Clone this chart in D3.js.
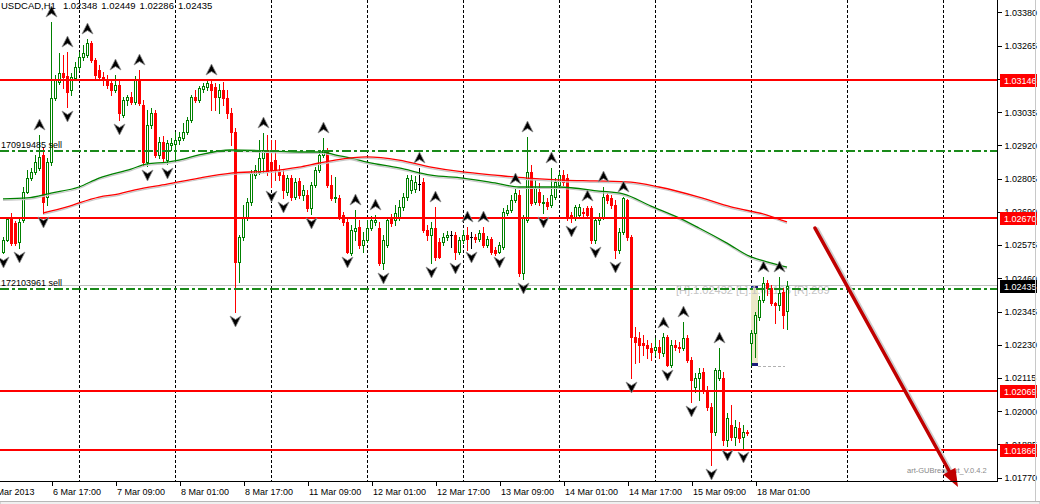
<!DOCTYPE html>
<html><head><meta charset="utf-8">
<script src="https://cdn.jsdelivr.net/npm/d3@7"></script>
<style>
html,body{margin:0;padding:0;background:#fff;}
svg{display:block;}
text{font-family:"Liberation Sans",Arial,sans-serif;}
</style></head><body>
<svg id="c" width="1040" height="504"></svg>
<script>
// ---------------- DATA ----------------
const symbol = "USDCAD,H1";
const headerValues = [1.02348, 1.02449, 1.02286, 1.02435];

const opens = [1.02551,1.02593,1.02665,1.02651,1.02586,1.02662,1.02759,1.02807,1.02828,1.02842,
1.02887,1.02741,1.02862,1.03084,1.03139,1.03170,1.03160,1.03112,1.03153,1.03191,
1.03226,1.03233,1.03274,1.03215,1.03181,1.03157,1.03150,1.03136,1.03112,1.03129,
1.03025,1.03077,1.03087,1.03070,1.03146,1.03060,1.02862,1.02991,1.03032,1.02887,
1.02932,1.02869,1.02921,1.02925,1.02939,1.02946,1.02966,1.03008,1.03087,1.03077,
1.03115,1.03122,1.03132,1.03122,1.03087,1.03112,1.03084,1.03032,1.02966,1.02517,
1.02603,1.02669,1.02724,1.02817,1.02828,1.02876,1.02904,1.02862,1.02869,1.02828,
1.02817,1.02759,1.02807,1.02741,1.02797,1.02748,1.02748,1.02703,1.02783,1.02835,
1.02887,1.02904,1.02783,1.02738,1.02738,1.02679,1.02655,1.02548,1.02624,1.02638,
1.02575,1.02593,1.02634,1.02655,1.02634,1.02513,1.02575,1.02672,1.02662,1.02672,
1.02707,1.02741,1.02766,1.02769,1.02786,1.02793,1.02627,1.02610,1.02634,1.02586,
1.02586,1.02603,1.02610,1.02610,1.02551,1.02593,1.02610,1.02603,1.02603,1.02596,
1.02617,1.02575,1.02596,1.02558,1.02551,1.02568,1.02686,1.02696,1.02731,1.02748,
1.02478,1.02662,1.02828,1.02724,1.02759,1.02721,1.02724,1.02714,1.02741,1.02783,
1.02817,1.02807,1.02679,1.02669,1.02679,1.02690,1.02703,1.02703,1.02593,1.02662,
1.02672,1.02748,1.02738,1.02714,1.02558,1.02620,1.02731,1.02603,1.02257,1.02254,
1.02236,1.02229,1.02219,1.02212,1.02222,1.02202,1.02257,1.02160,1.02229,1.02222,
1.02219,1.02254,1.02177,1.02084,1.02115,1.02136,1.02074,1.02015,1.01928,1.02115,
1.02115,1.01901,1.01953,1.01911,1.01942,1.01911,1.01928,1.02236,1.02271,1.02326,
1.02385,1.02444,1.02427,1.02375,1.02368,1.02413,1.02348];

const highs = [1.02603,1.02672,1.02686,1.02658,1.02669,1.02776,1.02835,1.02842,1.02887,1.02956,
1.02914,1.02876,1.03347,1.03164,1.03240,1.03233,1.03243,1.03170,1.03209,1.03243,
1.03267,1.03288,1.03281,1.03222,1.03198,1.03174,1.03164,1.03146,1.03164,1.03146,
1.03087,1.03094,1.03105,1.03160,1.03181,1.03077,1.03042,1.03049,1.03042,1.02949,
1.02952,1.02939,1.02946,1.02966,1.02966,1.02997,1.03018,1.03094,1.03112,1.03125,
1.03136,1.03146,1.03146,1.03136,1.03132,1.03139,1.03112,1.03049,1.02980,1.02610,
1.02714,1.02738,1.02835,1.02852,1.02939,1.02963,1.02956,1.02939,1.02939,1.02852,
1.02835,1.02817,1.02817,1.02807,1.02807,1.02783,1.02766,1.02793,1.02845,1.02904,
1.02946,1.02911,1.02817,1.02811,1.02748,1.02690,1.02669,1.02645,1.02696,1.02662,
1.02620,1.02662,1.02676,1.02679,1.02655,1.02610,1.02672,1.02683,1.02714,1.02731,
1.02755,1.02817,1.02817,1.02814,1.02842,1.02807,1.02645,1.02655,1.02707,1.02600,
1.02617,1.02624,1.02624,1.02620,1.02603,1.02627,1.02638,1.02620,1.02613,1.02627,
1.02638,1.02606,1.02603,1.02568,1.02586,1.02703,1.02714,1.02748,1.02769,1.02766,
1.02679,1.02949,1.02852,1.02800,1.02790,1.02748,1.02738,1.02842,1.02807,1.02828,
1.02835,1.02821,1.02690,1.02714,1.02717,1.02703,1.02710,1.02710,1.02672,1.02686,
1.02776,1.02755,1.02748,1.02731,1.02634,1.02741,1.02735,1.02610,1.02292,1.02274,
1.02264,1.02247,1.02236,1.02254,1.02247,1.02271,1.02264,1.02247,1.02247,1.02240,
1.02309,1.02264,1.02188,1.02132,1.02150,1.02150,1.02087,1.02029,1.02150,1.02219,
1.02136,1.01994,1.02022,1.01970,1.01963,1.01953,1.01935,1.02281,1.02344,1.02399,
1.02465,1.02454,1.02437,1.02378,1.02465,1.02427,1.02449];

const lows = [1.02548,1.02589,1.02575,1.02575,1.02565,1.02655,1.02755,1.02800,1.02821,1.02835,
1.02686,1.02714,1.02852,1.03077,1.03132,1.03119,1.03053,1.03094,1.03146,1.03181,
1.03215,1.03226,1.03209,1.03153,1.03146,1.03129,1.03119,1.03094,1.03105,1.03008,
1.03018,1.03060,1.03063,1.03063,1.03060,1.02852,1.02849,1.02980,1.02880,1.02876,
1.02866,1.02856,1.02904,1.02869,1.02925,1.02939,1.02959,1.03001,1.03070,1.03070,
1.03105,1.03112,1.03042,1.03042,1.03032,1.03060,1.03015,1.02921,1.02344,1.02447,
1.02593,1.02662,1.02714,1.02807,1.02821,1.02828,1.02817,1.02776,1.02800,1.02800,
1.02738,1.02748,1.02731,1.02735,1.02738,1.02731,1.02693,1.02683,1.02776,1.02828,
1.02880,1.02776,1.02731,1.02724,1.02665,1.02645,1.02548,1.02541,1.02593,1.02565,
1.02551,1.02586,1.02627,1.02645,1.02506,1.02492,1.02568,1.02641,1.02645,1.02662,
1.02696,1.02731,1.02755,1.02759,1.02766,1.02620,1.02593,1.02513,1.02523,1.02530,
1.02575,1.02593,1.02568,1.02527,1.02544,1.02582,1.02558,1.02565,1.02586,1.02589,
1.02568,1.02568,1.02544,1.02541,1.02548,1.02562,1.02679,1.02690,1.02724,1.02468,
1.02458,1.02655,1.02714,1.02717,1.02714,1.02686,1.02700,1.02707,1.02735,1.02773,
1.02783,1.02662,1.02655,1.02662,1.02669,1.02676,1.02669,1.02582,1.02582,1.02648,
1.02665,1.02721,1.02703,1.02530,1.02548,1.02613,1.02593,1.02115,1.02167,1.02170,
1.02195,1.02184,1.02177,1.02195,1.02184,1.02191,1.02157,1.02153,1.02212,1.02205,
1.02212,1.02170,1.02032,1.02067,1.02039,1.02063,1.02004,1.01814,1.01918,1.02108,
1.01883,1.01880,1.01901,1.01883,1.01894,1.01873,1.01918,1.02160,1.02188,1.02316,
1.02378,1.02402,1.02368,1.02305,1.02350,1.02288,1.02286];

const closes = [1.02593,1.02665,1.02582,1.02582,1.02655,1.02759,1.02807,1.02828,1.02862,1.02880,
1.02724,1.02862,1.03084,1.03146,1.03170,1.03157,1.03105,1.03157,1.03191,1.03226,
1.03240,1.03274,1.03215,1.03164,1.03157,1.03146,1.03129,1.03112,1.03129,1.03032,
1.03077,1.03087,1.03070,1.03146,1.03067,1.02862,1.02991,1.03032,1.02887,1.02932,
1.02876,1.02928,1.02928,1.02939,1.02949,1.02966,1.03008,1.03087,1.03077,1.03119,
1.03125,1.03136,1.03112,1.03087,1.03112,1.03084,1.03032,1.02966,1.02517,1.02603,
1.02669,1.02724,1.02824,1.02835,1.02876,1.02904,1.02828,1.02835,1.02835,1.02817,
1.02766,1.02807,1.02741,1.02793,1.02748,1.02766,1.02703,1.02783,1.02835,1.02887,
1.02904,1.02783,1.02738,1.02741,1.02672,1.02655,1.02551,1.02627,1.02634,1.02575,
1.02593,1.02634,1.02662,1.02662,1.02513,1.02593,1.02662,1.02651,1.02686,1.02707,
1.02741,1.02807,1.02800,1.02793,1.02786,1.02627,1.02610,1.02634,1.02534,1.02534,
1.02603,1.02610,1.02610,1.02551,1.02593,1.02610,1.02596,1.02603,1.02596,1.02617,
1.02575,1.02596,1.02551,1.02548,1.02575,1.02690,1.02696,1.02731,1.02755,1.02478,
1.02669,1.02828,1.02721,1.02773,1.02724,1.02724,1.02710,1.02748,1.02793,1.02817,
1.02793,1.02669,1.02669,1.02707,1.02707,1.02686,1.02679,1.02593,1.02662,1.02672,
1.02741,1.02731,1.02714,1.02558,1.02620,1.02738,1.02603,1.02257,1.02240,1.02229,
1.02229,1.02219,1.02205,1.02222,1.02205,1.02257,1.02160,1.02229,1.02222,1.02219,
1.02254,1.02177,1.02108,1.02115,1.02132,1.02074,1.02015,1.01928,1.02143,1.02143,
1.01901,1.01977,1.01911,1.01946,1.01908,1.01928,1.01925,1.02271,1.02333,1.02385,
1.02444,1.02427,1.02375,1.02368,1.02409,1.02333,1.02435];

const xLabels = ["6 Mar 2013","6 Mar 17:00","7 Mar 09:00","8 Mar 01:00","8 Mar 17:00","11 Mar 09:00",
  "12 Mar 01:00","12 Mar 17:00","13 Mar 09:00","14 Mar 01:00","14 Mar 17:00","15 Mar 09:00","18 Mar 01:00"];
const xLabelBars = [-4,12,28,44,60,76,92,108,124,140,156,172,188];
const daySeparatorBars = [19,43,67,91,115,139,163,187,211,235];

const yTicks = [1.01770,1.01885,1.02000,1.02115,1.02230,1.02345,1.02460,1.02575,1.02690,1.02805,1.02920,1.03035,1.03150,1.03265,1.03380];

const levelPrices = [1.03146, 1.02670, 1.02069, 1.01866];
const orderPrices = [1.02899, 1.02423];
const orderLabels = ["170919485 sell", "172103961 sell"];
const bidPrice = 1.02435;

const maGreenBars = [0,6,12,19,24,32,36,41,44,49,57,66,74,80,83,87,91,99,107,115,123,129,139,149,155,162,169,174,181,187,191,196];
const maGreenVals = [1.02735,1.02738,1.02755,1.02776,1.02807,1.02838,1.02856,1.02862,1.02869,1.02887,1.02904,1.02901,1.02897,1.02897,1.02887,1.02876,1.02862,1.02842,1.02817,1.02807,1.02790,1.02776,1.02776,1.02762,1.02752,1.02710,1.02669,1.02634,1.02582,1.02534,1.02517,1.02499];
const maRedBars = [10,16,19,24,29,33,41,49,57,66,74,79,83,91,99,107,115,123,131,140,148,157,164,174,182,191,196];
const maRedVals = [1.02686,1.02707,1.02721,1.02741,1.02752,1.02766,1.02786,1.02807,1.02824,1.02831,1.02845,1.02859,1.02869,1.02880,1.02869,1.02845,1.02828,1.02817,1.02807,1.02800,1.02797,1.02793,1.02776,1.02741,1.02707,1.02679,1.02655];

const fractalUp = [9,12,16,21,28,34,52,65,80,88,93,104,108,116,120,128,131,137,146,150,155,165,170,179,190,194];
const fractalDown = [0,4,10,16,29,36,41,58,67,70,77,86,95,107,113,117,124,130,135,142,148,153,157,166,172,177,181,185];

const boxStartBar = 187, boxEndBar = 194;
const boxHigh = 1.02432, boxLow = 1.02163, boxRange = 269;
const boxText = "[H]:1.02432 [L]:1.02163 [R]:269";
const trendFrom = {bar: 203, price: 1.02634};
const trendTo = {bar: 238.75, price: 1.01738};
const watermark = "art-GUBreakout_V.0.4.2";

// ---------------- DRAW ----------------
const svg = d3.select("#c");
const PR = 997, PB = 481;
const x = d3.scaleLinear().domain([0, 196]).range([3, 787]);
const y = d3.scaleLinear().domain([1.017587, 1.03423]).range([PB, 0]);
const px = i => Math.round(x(i));
const py = v => Math.round(y(v));
const GREEN = "#008000", RED = "#ff0000";

svg.append("rect").attr("width",1040).attr("height",504).attr("fill","#fff");
svg.append("defs").append("clipPath").attr("id","clip").append("rect").attr("width",PR).attr("height",PB);
const plot = svg.append("g").attr("clip-path","url(#clip)");

// day separators
plot.append("g").attr("shape-rendering","crispEdges").selectAll("line").data(daySeparatorBars).join("line")
  .attr("x1",d=>px(d)+0.5).attr("x2",d=>px(d)+0.5).attr("y1",0).attr("y2",PB)
  .attr("stroke","#000").attr("stroke-dasharray","3,2");

// breakout box
const bx0 = px(boxStartBar), bx1 = px(boxStartBar)+7;
plot.append("rect").attr("x",bx0).attr("y",py(boxHigh)).attr("width",bx1-bx0).attr("height",py(boxLow)-py(boxHigh))
  .attr("fill","#ebe8c8");
plot.append("rect").attr("x",bx0).attr("y",py(boxHigh)-1).attr("width",bx1-bx0).attr("height",3).attr("fill","#1a1a7a");
plot.append("rect").attr("x",bx0).attr("y",py(boxLow)-1).attr("width",bx1-bx0).attr("height",3).attr("fill","#1a1a7a");
plot.append("line").attr("x1",bx1).attr("x2",px(boxEndBar)+6).attr("y1",py(boxLow)+2.5).attr("y2",py(boxLow)+2.5)
  .attr("stroke","#b0b0b0").attr("stroke-dasharray","3,2").attr("shape-rendering","crispEdges");

// bid line
plot.append("line").attr("x1",0).attr("x2",PR).attr("y1",py(bidPrice)-0.5).attr("y2",py(bidPrice)-0.5)
  .attr("stroke","#c0c0c0").attr("shape-rendering","crispEdges");

// box text
plot.append("text").attr("x",676).attr("y",py(boxHigh)+8).attr("font-size","11px").attr("fill","#c4c4c4").text(boxText);

// candles
const cg = plot.append("g").attr("shape-rendering","crispEdges");
opens.forEach((o,i)=>{
  const h=highs[i], l=lows[i], c=closes[i];
  const cx = px(i);
  const col = c>o ? GREEN : c<o ? RED : "#000";
  const t = py(Math.max(o,c)), b = py(Math.min(o,c));
  cg.append("line").attr("x1",cx+0.5).attr("x2",cx+0.5).attr("y1",py(h)).attr("y2",py(l)+1).attr("stroke",col);
  if (c>o && b-t>=2) {
    cg.append("rect").attr("x",cx-0.5).attr("y",t+0.5).attr("width",2).attr("height",b-t)
      .attr("fill","#fff").attr("stroke",col);
  } else {
    cg.append("rect").attr("x",cx-1).attr("y",t).attr("width",3).attr("height",Math.max(b-t,0)+1).attr("fill",col);
  }
});

// moving averages
const maLine = d3.line().x(d=>x(d[0])).y(d=>y(d[1])).curve(d3.curveMonotoneX);
function drawMA(bars, vals, col){
  const pts = bars.map((b,k)=>[b, vals[k]]);
  plot.append("path").attr("d",maLine(pts)).attr("fill","none").attr("stroke","#c8c8c8").attr("stroke-width",1.2)
    .attr("transform","translate(0,1.5)");
  plot.append("path").attr("d",maLine(pts)).attr("fill","none").attr("stroke",col).attr("stroke-width",1.3);
}
drawMA(maGreenBars, maGreenVals, GREEN);
drawMA(maRedBars, maRedVals, RED);

// horizontal level lines
plot.append("g").attr("shape-rendering","crispEdges").selectAll("line").data(levelPrices).join("line")
  .attr("x1",0).attr("x2",PR).attr("y1",d=>py(d)).attr("y2",d=>py(d)).attr("stroke",RED).attr("stroke-width",2);

// order lines
plot.append("g").attr("shape-rendering","crispEdges").selectAll("line").data(orderPrices).join("line")
  .attr("x1",0).attr("x2",PR).attr("y1",d=>py(d)).attr("y2",d=>py(d))
  .attr("stroke","#1a8a1a").attr("stroke-width",2).attr("stroke-dasharray","9,3,3,3");
plot.selectAll(".ol").data(orderPrices).join("text").attr("x",1).attr("y",d=>py(d)-3)
  .attr("font-size","9px").attr("fill","#000").text((d,i)=>orderLabels[i]);

// fractal arrows
const upPath = "M0,-6 L5.5,5 L0,1.5 L-5.5,5 Z";
const dnPath = "M0,6 L5.5,-5 L0,-1.5 L-5.5,-5 Z";
plot.selectAll(".fu").data(fractalUp).join("path").attr("d",upPath)
  .attr("transform",i=>`translate(${px(i)+0.5},${py(highs[i])-10})`)
  .attr("fill","#000").attr("stroke","#8a8a8a").attr("stroke-width",0.8).attr("stroke-linejoin","round");
plot.selectAll(".fd").data(fractalDown).join("path").attr("d",dnPath)
  .attr("transform",i=>`translate(${px(i)+0.5},${py(lows[i])+9})`)
  .attr("fill","#000").attr("stroke","#8a8a8a").attr("stroke-width",0.8).attr("stroke-linejoin","round");

// watermark
svg.append("text").attr("x",907).attr("y",473).attr("font-size","7.5px").attr("fill","#8a8a8a").text(watermark);

// trend arrow
(function(){
  const x1=x(trendFrom.bar), y1=y(trendFrom.price), x2=x(trendTo.bar), y2=y(trendTo.price);
  const dx=x2-x1, dy=y2-y1, L=Math.hypot(dx,dy), ux=dx/L, uy=dy/L, nx=-uy, ny=ux;
  const hl=18, hw=7;
  const bxp=x2-ux*hl, byp=y2-uy*hl;
  const g = svg.append("g");
  g.append("line").attr("x1",x1+2.5).attr("y1",y1+1).attr("x2",bxp+2.5).attr("y2",byp+1)
    .attr("stroke","#cfcfcf").attr("stroke-width",3.5).attr("stroke-linecap","round");
  g.append("line").attr("x1",x1).attr("y1",y1).attr("x2",bxp+ux*2).attr("y2",byp+uy*2)
    .attr("stroke","#c00000").attr("stroke-width",3.5).attr("stroke-linecap","round");
  g.append("path").attr("d",`M${x2},${y2} L${bxp+nx*hw},${byp+ny*hw} L${bxp-nx*hw},${byp-ny*hw} Z`)
    .attr("fill","#c00000");
})();

// axes lines
svg.append("line").attr("x1",PR+0.5).attr("x2",PR+0.5).attr("y1",0).attr("y2",PB+1).attr("stroke","#000").attr("shape-rendering","crispEdges");
svg.append("line").attr("x1",0).attr("x2",PR+1).attr("y1",PB+0.5).attr("y2",PB+0.5).attr("stroke","#000").attr("shape-rendering","crispEdges");

// y axis
const yAxis = d3.axisRight(y).tickValues(yTicks).tickFormat(d3.format(".5f")).tickSize(4).tickSizeOuter(0);
const ya = svg.append("g").attr("transform",`translate(${PR+0.5},0)`).call(yAxis);
ya.select(".domain").remove();
ya.selectAll("text").attr("font-size","9px").attr("font-family","Liberation Sans, Arial, sans-serif").attr("fill","#000");
ya.selectAll("line").attr("shape-rendering","crispEdges");

// x axis
const xAxis = d3.axisBottom(x).tickValues(xLabelBars).tickFormat((d,i)=>xLabels[i]).tickSize(4).tickSizeOuter(0);
const xa = svg.append("g").attr("transform",`translate(0.5,${PB+0.5})`).call(xAxis);
xa.select(".domain").remove();
xa.selectAll("text").attr("font-size","9px").attr("font-family","Liberation Sans, Arial, sans-serif")
  .attr("fill","#000").attr("text-anchor","start").attr("x",1);
xa.selectAll("line").attr("shape-rendering","crispEdges");

// price labels
const tags = levelPrices.map(p=>({p, bg:RED})).concat([{p:bidPrice, bg:"#000"}]);
const tg = svg.append("g");
tags.forEach(t=>{
  tg.append("rect").attr("x",1000).attr("y",py(t.p)-6).attr("width",37).attr("height",13).attr("fill",t.bg);
  tg.append("text").attr("x",1004).attr("y",py(t.p)+3.5).attr("font-size","9px").attr("fill","#fff").text(t.p.toFixed(5));
});

// header
const hdr = svg.append("g").attr("font-size","9.5px").attr("fill","#000");
let hx = 1;
[symbol].concat(headerValues.map(v=>v.toFixed(5))).forEach((s,k)=>{
  const t = hdr.append("text").attr("x",hx).attr("y",9).text(s);
  hx += t.node().getComputedTextLength() + (k===0 ? 7 : 4);
});

// window chrome
svg.append("line").attr("x1",1035.5).attr("x2",1035.5).attr("y1",0).attr("y2",501).attr("stroke","#c8c8c8");
svg.append("rect").attr("x",0).attr("y",501.5).attr("width",1040).attr("height",3).attr("fill","#f0f0f0").attr("stroke","#b8b8b8");
</script>
</body></html>
